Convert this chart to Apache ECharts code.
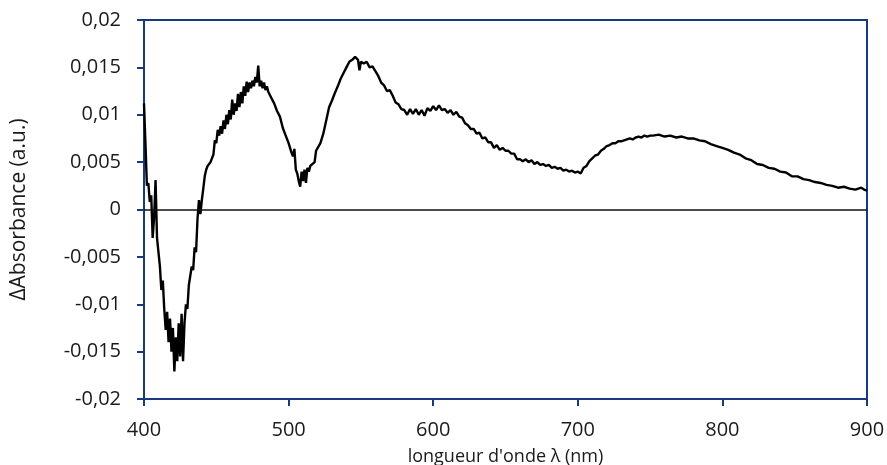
<!DOCTYPE html>
<html>
<head>
<meta charset="utf-8">
<title>Spectre d'absorbance différentielle</title>
<script src="https://cdn.jsdelivr.net/npm/echarts@6/dist/echarts.min.js"></script>
<style>
  html, body { margin: 0; padding: 0; background: #fff; }
  #main { width: 887px; height: 465px; }
</style>
</head>
<body>
<div id="main"></div>
<script>
// longueurs d'onde (nm)
var wavelength = [
  400, 401, 402, 403, 404, 405, 406, 407, 408, 409,
  410, 411, 412, 413, 414, 415, 416, 417, 418, 419,
  420, 421, 422, 423, 424, 425, 426, 427, 428, 429,
  430, 431, 432, 433, 434, 435, 436, 437, 438, 439,
  440, 441, 442, 443, 444, 445, 446, 447, 448, 449,
  450, 451, 452, 453, 454, 455, 456, 457, 458, 459,
  460, 461, 462, 463, 464, 465, 466, 467, 468, 469,
  470, 471, 472, 473, 474, 475, 476, 477, 478, 479,
  480, 481, 482, 483, 484, 485, 486, 487, 488, 489,
  490, 492, 494, 496, 498, 500, 502, 503, 504, 505,
  506, 507, 508, 509, 510, 511, 512, 513, 514, 515,
  516, 518, 519, 520, 522, 524, 526, 528, 530, 532,
  534, 536, 538, 540, 542, 544, 546, 548, 549, 550,
  552, 554, 556, 558, 560, 562, 564, 566, 568, 570,
  572, 574, 576, 578, 580, 582, 584, 586, 588, 590,
  592, 594, 596, 598, 600, 602, 604, 606, 608, 610,
  612, 614, 616, 618, 620, 622, 624, 626, 628, 630,
  632, 634, 636, 638, 640, 642, 644, 646, 648, 650,
  652, 654, 656, 658, 660, 662, 664, 666, 668, 670,
  672, 674, 676, 678, 680, 682, 684, 686, 688, 690,
  692, 694, 696, 698, 700, 702, 704, 706, 708, 710,
  712, 714, 716, 718, 720, 722, 724, 726, 728, 730,
  732, 734, 736, 738, 740, 742, 744, 746, 748, 750,
  752, 756, 760, 764, 768, 772, 776, 780, 784, 788,
  792, 796, 800, 804, 808, 812, 816, 820, 824, 828,
  832, 836, 840, 844, 848, 852, 856, 860, 864, 868,
  872, 876, 880, 884, 888, 892, 896, 898, 900
];

// ΔAbsorbance (u.a.)
var deltaAbs = [
  0.0112, 0.0070, 0.0025, 0.0028, 0.0008, 0.0015, -0.0030, -0.0008, 0.0031, -0.0030,
  -0.0045, -0.0060, -0.0085, -0.0075, -0.0105, -0.0127, -0.0108, -0.0140, -0.0115, -0.0150,
  -0.0125, -0.0171, -0.0135, -0.0160, -0.0120, -0.0155, -0.0110, -0.0160, -0.0120, -0.0100,
  -0.0105, -0.0080, -0.0078, -0.0060, -0.0064, -0.0040, -0.0045, -0.0010, 0.0010, -0.0005,
  0.0010, 0.0022, 0.0035, 0.0042, 0.0046, 0.0045, 0.0050, 0.0048, 0.0058, 0.0073,
  0.0070, 0.0084, 0.0078, 0.0088, 0.0080, 0.0094, 0.0085, 0.0100, 0.0090, 0.0105,
  0.0095, 0.0116, 0.0100, 0.0112, 0.0104, 0.0122, 0.0108, 0.0124, 0.0112, 0.0130,
  0.0120, 0.0135, 0.0124, 0.0134, 0.0128, 0.0136, 0.0130, 0.0140, 0.0134, 0.0152,
  0.0130, 0.0136, 0.0128, 0.0134, 0.0126, 0.0130, 0.0124, 0.0126, 0.0118, 0.0116,
  0.0112, 0.0104, 0.0098, 0.0086, 0.0078, 0.0070, 0.0060, 0.0056, 0.0064, 0.0042,
  0.0038, 0.0030, 0.0024, 0.0040, 0.0030, 0.0042, 0.0028, 0.0044, 0.0040, 0.0046,
  0.0045, 0.0050, 0.0062, 0.0060, 0.0070, 0.0080, 0.0094, 0.0108, 0.0115, 0.0123,
  0.0130, 0.0138, 0.0144, 0.0150, 0.0156, 0.0158, 0.0161, 0.0158, 0.0147, 0.0156,
  0.0154, 0.0156, 0.0150, 0.0151, 0.0146, 0.0141, 0.0134, 0.0131, 0.0125, 0.0126,
  0.0120, 0.0113, 0.0111, 0.0106, 0.0105, 0.0100, 0.0106, 0.0101, 0.0106, 0.0100,
  0.0105, 0.0099, 0.0107, 0.0104, 0.0109, 0.0105, 0.0110, 0.0105, 0.0106, 0.0102,
  0.0105, 0.0100, 0.0103, 0.0098, 0.0097, 0.0091, 0.0089, 0.0085, 0.0085, 0.0080,
  0.0081, 0.0075, 0.0076, 0.0071, 0.0071, 0.0065, 0.0068, 0.0063, 0.0065, 0.0062,
  0.0062, 0.0059, 0.0059, 0.0053, 0.0053, 0.0051, 0.0053, 0.0050, 0.0052, 0.0048,
  0.0050, 0.0047, 0.0048, 0.0046, 0.0047, 0.0044, 0.0045, 0.0043, 0.0044, 0.0041,
  0.0042, 0.0040, 0.0041, 0.0039, 0.0040, 0.0038, 0.0044, 0.0046, 0.0051, 0.0054,
  0.0057, 0.0058, 0.0062, 0.0064, 0.0067, 0.0068, 0.0070, 0.0070, 0.0072, 0.0072,
  0.0073, 0.0074, 0.0075, 0.0074, 0.0076, 0.0077, 0.0076, 0.0078, 0.0077, 0.0078,
  0.0078, 0.0079, 0.0077, 0.0078, 0.0076, 0.0077, 0.0075, 0.0075, 0.0073, 0.0072,
  0.0069, 0.0067, 0.0065, 0.0063, 0.0060, 0.0058, 0.0054, 0.0052, 0.0048, 0.0047,
  0.0044, 0.0043, 0.0040, 0.0039, 0.0035, 0.0035, 0.0032, 0.0031, 0.0029, 0.0028,
  0.0026, 0.0025, 0.0023, 0.0024, 0.0022, 0.0021, 0.0023, 0.0021, 0.0020
];

var xTicks = [400, 500, 600, 700, 800, 900];
var yTicks = [-0.02, -0.015, -0.01, -0.005, 0, 0.005, 0.01, 0.015, 0.02];

var axisBlue = '#173a7e';
var textColor = '#1a1a1a';
var fontName = 'Open Sans';

var points = [];
for (var i = 0; i < wavelength.length; i++) {
  points.push([wavelength[i], deltaAbs[i]]);
}

var chart = echarts.init(document.getElementById('main'), null, { renderer: 'canvas' });

var option = {
  backgroundColor: '#ffffff',
  animation: false,
  grid: {
    left: 144,
    right: 20,
    top: 20,
    bottom: 66,
    outerBoundsMode: 'none',
    show: true,
    borderColor: axisBlue,
    borderWidth: 2
  },
  xAxis: {
    type: 'value',
    min: xTicks[0],
    max: xTicks[xTicks.length - 1],
    interval: 100,
    name: "longueur d'onde λ (nm)",
    nameLocation: 'middle',
    nameGap: 49,
    nameTextStyle: { color: textColor, fontSize: 18, fontFamily: fontName },
    axisLine: { onZero: false, lineStyle: { color: axisBlue, width: 2 } },
    axisTick: { show: true, inside: false, length: 7, lineStyle: { color: axisBlue, width: 2 } },
    axisLabel: { color: textColor, fontSize: 20, fontFamily: fontName, margin: 21 },
    splitLine: { show: false }
  },
  yAxis: {
    type: 'value',
    min: yTicks[0],
    max: yTicks[yTicks.length - 1],
    interval: 0.005,
    name: 'ΔAbsorbance (a.u.)',
    nameLocation: 'middle',
    nameGap: 114,
    nameTextStyle: { color: textColor, fontSize: 21, fontFamily: fontName },
    axisLine: { onZero: false, lineStyle: { color: axisBlue, width: 2 } },
    axisTick: { show: true, inside: false, length: 7, lineStyle: { color: axisBlue, width: 2 } },
    axisLabel: {
      color: textColor,
      fontSize: 20,
      fontFamily: fontName,
      margin: 23,
      formatter: function (v) {
        return String(parseFloat(v.toFixed(4))).replace('.', ',');
      }
    },
    splitLine: { show: false }
  },
  series: [
    {
      name: 'ΔAbsorbance',
      type: 'line',
      data: points,
      showSymbol: false,
      smooth: false,
      lineStyle: { color: '#000', width: 2.4 },
      markLine: {
        silent: true,
        symbol: ['none', 'none'],
        label: { show: false },
        lineStyle: { color: '#111', width: 1.5, type: 'solid' },
        data: [{ yAxis: 0 }]
      }
    }
  ]
};

chart.setOption(option);
</script>
</body>
</html>
